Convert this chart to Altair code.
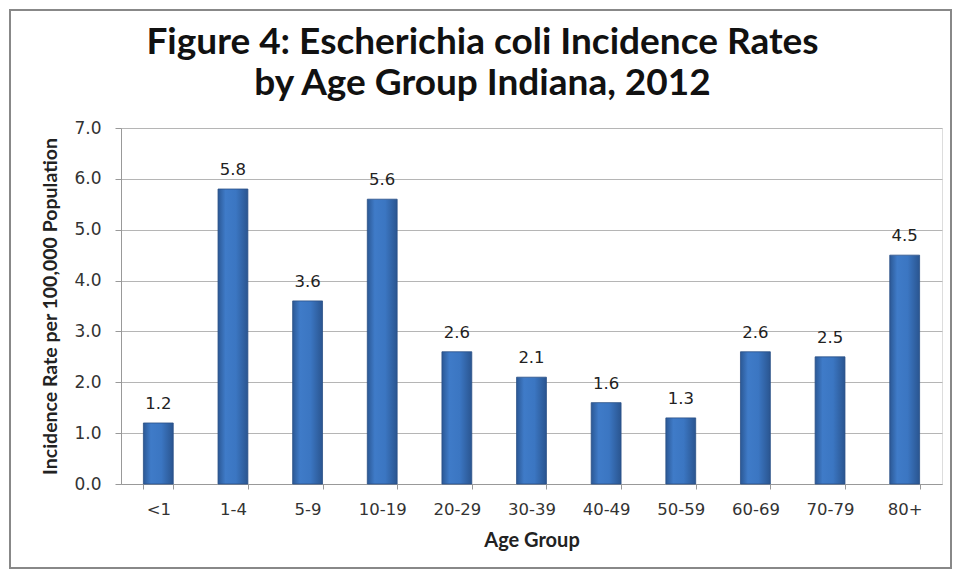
import altair as alt
import pandas as pd

age_groups = ["<1", "1-4", "5-9", "10-19", "20-29", "30-39", "40-49", "50-59", "60-69", "70-79", "80+"]
rates = [1.2, 5.8, 3.6, 5.6, 2.6, 2.1, 1.6, 1.3, 2.6, 2.5, 4.5]

df = pd.DataFrame({"age": age_groups, "rate": rates})

W, H = 821, 356
PL, PT = 113, 120

grad = alt.Gradient(
    gradient="linear",
    stops=[
        alt.GradientStop(color="#2b5895", offset=0),
        alt.GradientStop(color="#3f7bc8", offset=0.25),
        alt.GradientStop(color="#3b76c2", offset=0.6),
        alt.GradientStop(color="#2a5590", offset=1),
    ],
    x1=0, x2=1, y1=0, y2=0,
)

x = alt.X("age:N", sort=age_groups,
          scale=alt.Scale(paddingInner=0.6, paddingOuter=0.3),
          axis=alt.Axis(title="Age Group", labelAngle=0, tickBand="extent",
                        labelFont="DejaVu Sans", labelFontSize=16.5, labelColor="#333",
                        labelPadding=12, tickSize=5, tickColor="#999", domainColor="#999",
                        titleFont="Lato", titleFontSize=20, titleFontWeight="bold",
                        titleColor="#222", titlePadding=13))
y = alt.Y("rate:Q", scale=alt.Scale(domain=[0, 7]),
          axis=alt.Axis(title="Incidence Rate per 100,000 Population", values=[0,1,2,3,4,5,6,7],
                        format=".1f", labelFont="DejaVu Sans", labelFontSize=17, labelColor="#333",
                        labelPadding=14, tickSize=6, tickColor="#999", domainColor="#999",
                        gridColor="#b5b5b5", titleFont="Lato", titleFontSize=19.5,
                        titleFontWeight="bold", titleColor="#222", titlePadding=13))

bars = alt.Chart(df).mark_bar(fill=grad, stroke="#2a4f85", strokeWidth=0.8).encode(x=x, y=y)
labels = alt.Chart(df).mark_text(baseline="bottom", dy=-11, font="DejaVu Sans",
                                 fontSize=16.5, color="#222").encode(
    x=alt.X("age:N", sort=age_groups), y="rate:Q", text=alt.Text("rate:Q", format=".1f"))

frame = alt.Chart(df).mark_rect(fill=None, stroke="#888", strokeWidth=2).encode(
    x=alt.value(-PL + 2), x2=alt.value(945 - PL - 2),
    y=alt.value(-PT + 2), y2=alt.value(561 - PT - 1))

chart = alt.layer(bars, labels, frame).properties(
    width=W, height=H,
    title=alt.TitleParams(["Figure 4: Escherichia coli Incidence Rates", "by Age Group Indiana, 2012"],
                          font="Lato", fontSize=37, fontWeight="bold", color="#111",
                          anchor="middle", offset=16, lineHeight=41, dy=110, dx=-49),
    autosize=alt.AutoSizeParams(type="none"),
    padding={"left": PL, "top": PT, "right": 945 - PL - W, "bottom": 561 - PT - H},
).configure_view(stroke=None).configure(background="white")

chart.save("out.html", embed_options={"renderer": "svg", "actions": False})
